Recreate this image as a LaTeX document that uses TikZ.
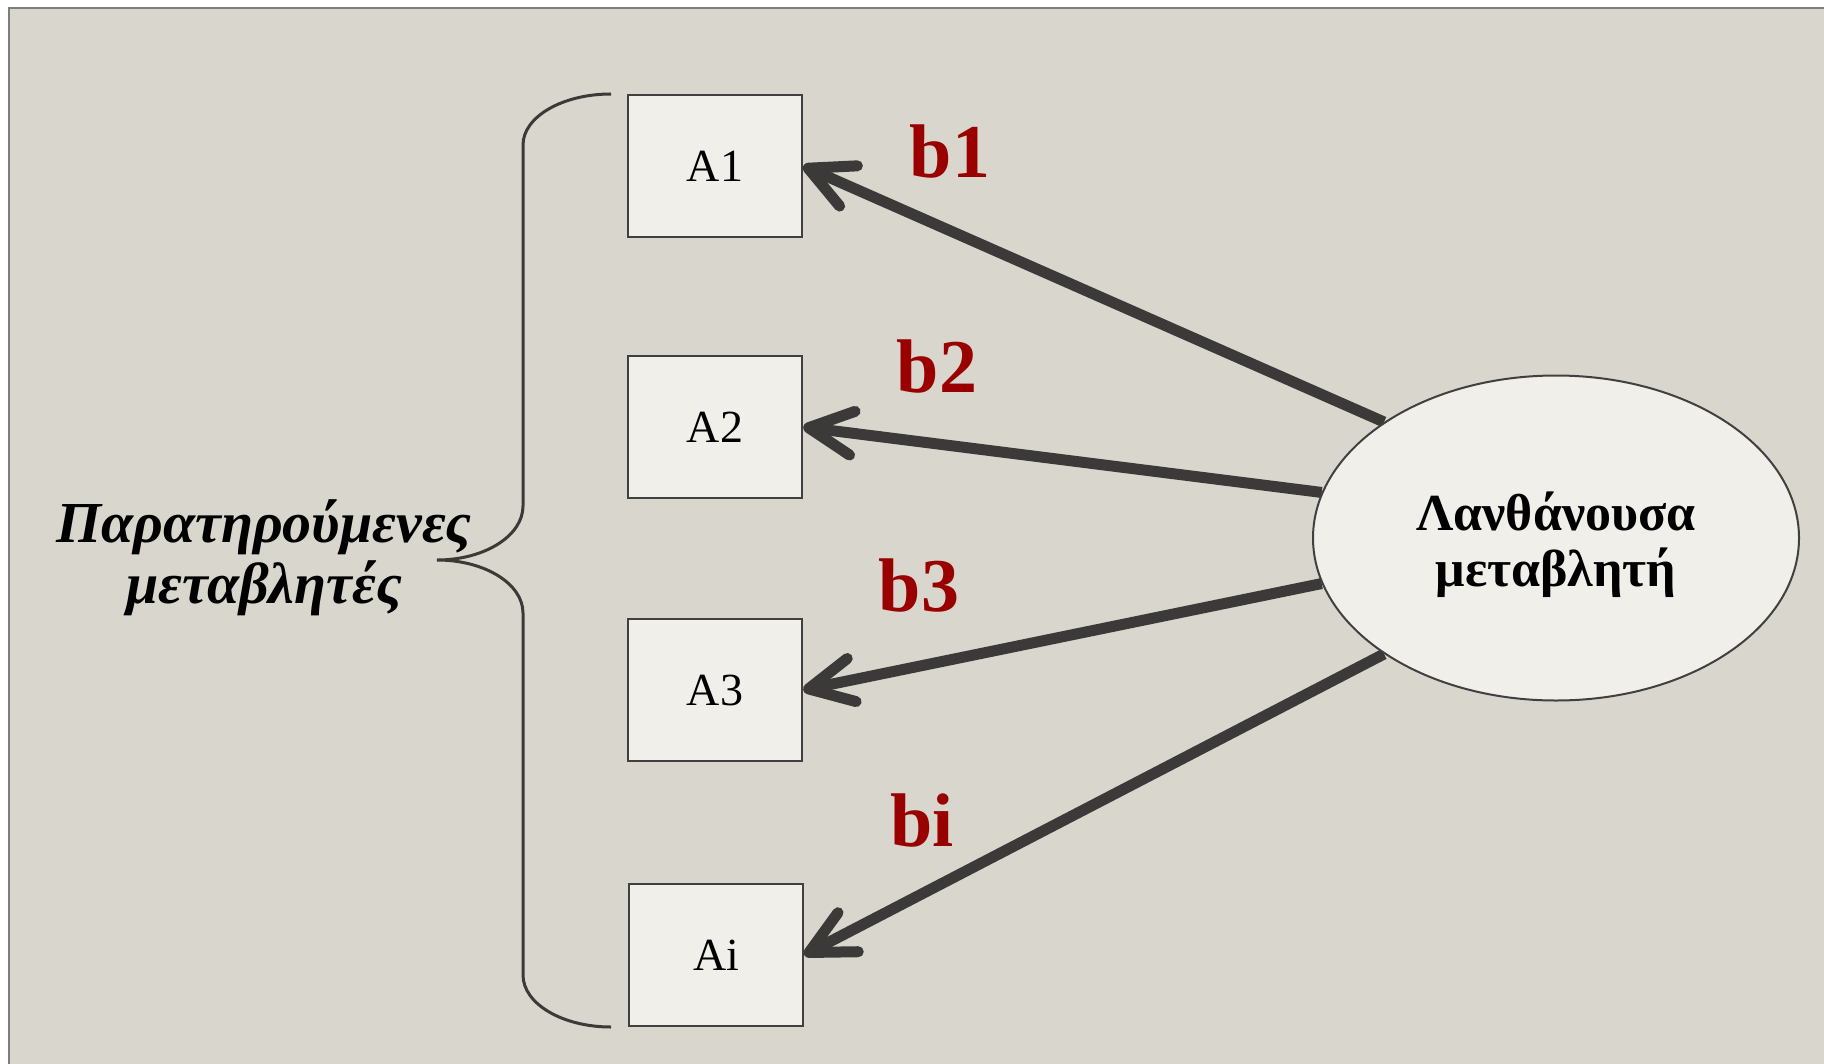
\documentclass[tikz,border=0pt]{standalone}
\usepackage{fontspec}
\setmainfont{Liberation Serif}
\usetikzlibrary{arrows.meta,shapes.geometric,calc}
\definecolor{panelbg}{RGB}{217,214,205}
\definecolor{boxfill}{RGB}{240,239,234}
\definecolor{ink}{RGB}{59,58,56}
\definecolor{wred}{RGB}{153,0,0}
\definecolor{rim}{RGB}{64,64,64}
\definecolor{framegray}{RGB}{125,125,125}
\pgfdeclarelayer{bottom}
\pgfdeclarelayer{back}
\pgfsetlayers{bottom,back,main}
\begin{document}
\begin{tikzpicture}[x=0.5pt,y=-0.5pt,
  obsbox/.style={draw=rim,line width=1.2pt,fill=boxfill,
    minimum width=87pt,minimum height=71pt,inner sep=0pt,
    font=\fontsize{23}{26}\selectfont},
  latent/.style={ellipse,draw=rim,line width=1pt,fill=boxfill,
    minimum width=243pt,minimum height=162.5pt,inner sep=0pt},
  lattext/.style={align=center,inner sep=0pt,
    font=\bfseries\fontsize{26}{28}\selectfont},
  coef/.style={text=wred,anchor=base,inner sep=0pt,
    font=\bfseries\fontsize{38}{40}\selectfont},
  obstext/.style={align=center,inner sep=0pt,
    font=\bfseries\itshape\fontsize{29}{30.5}\selectfont},
  loading/.style={draw=ink,line width=5.5pt,
    -{Straight Barb[length=22pt,width=22pt,round]}},
  brace/.style={draw=ink,line width=1.5pt}]
\useasboundingbox (0,0) rectangle (1824,1064);
\clip (0,0) rectangle (1824,1064);

% panel
\begin{pgfonlayer}{bottom}
  \fill[white] (0,0) rectangle (1824,1064);
  \draw[framegray,line width=1pt,fill=panelbg] (9,8) rectangle (1840,1080);
\end{pgfonlayer}

% observed variables
\node[obsbox] (A1) at (715,166) {A1};
\node[obsbox] (A2) at (715,427) {A2};
\node[obsbox] (A3) at (715,690) {A3};
\node[obsbox] (Ai) at (716,955) {Ai};

% latent variable
\node[latent] (lat) at (1556,538) {};
\node[lattext] (latname) at (1556,545) {Λανθάνουσα\\μεταβλητή};

% loadings
\begin{pgfonlayer}{back}
  \draw[loading] (lat.146) -- (A1.east);
  \draw[loading] (lat.169) -- (A2.east);
  \draw[loading] (lat.191) -- (A3.east);
  \draw[loading] (lat.214) -- (Ai.east);
\end{pgfonlayer}

\node[coef] (b1) at (950,178) {b1};
\node[coef] (b2) at (937,392) {b2};
\node[coef] (b3) at (919,611) {b3};
\node[coef] (bi) at (922,846) {bi};

% brace grouping the observed variables
\draw[brace] (611,94) .. controls (562.4,94) and (523,116.8) .. (523,145)
  -- (523,506) .. controls (523,535.8) and (484.5,560) .. (437,560)
  .. controls (484.5,560) and (523,583.7) .. (523,613)
  -- (523,975) .. controls (523,1003.7) and (562.4,1027) .. (611,1027);

\node[obstext] (obs) at (264,558) {Παρατηρούμενες\\μεταβλητές};
\end{tikzpicture}
\end{document}
